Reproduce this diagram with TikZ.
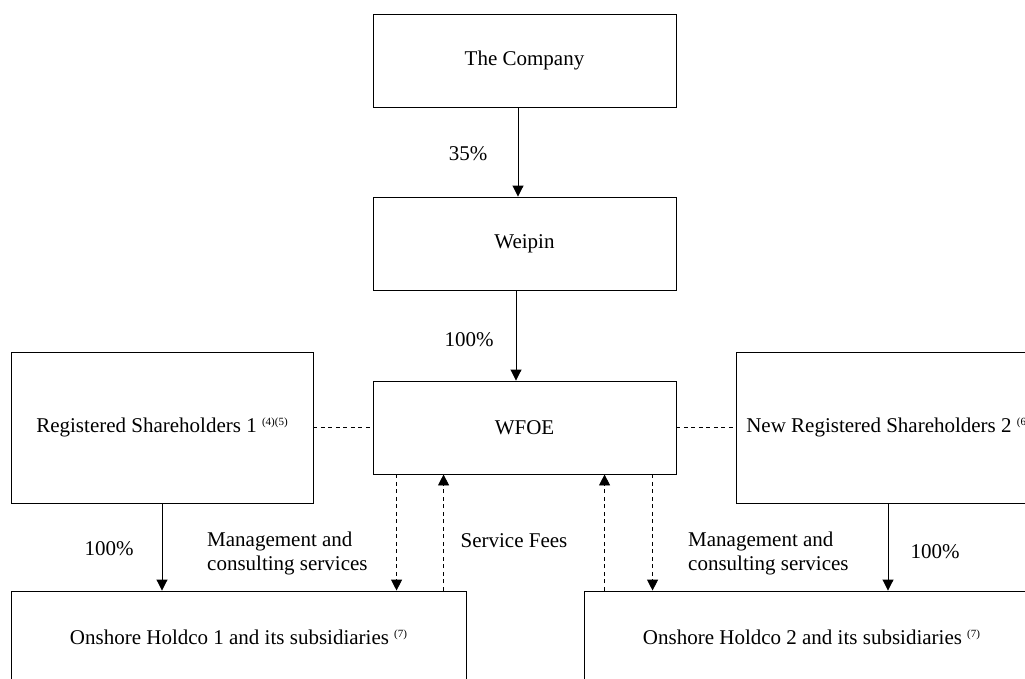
\documentclass[tikz,border=0pt]{standalone}
\usepackage{fontspec}
\setmainfont{Liberation Serif}
\usetikzlibrary{arrows.meta}
\newcommand{\supn}[1]{\raisebox{7pt}{\fontsize{11}{11}\selectfont #1}}
\begin{document}
\begin{tikzpicture}[x=1pt,y=-1pt,
  every node/.style={font=\fontsize{21}{25}\selectfont, inner sep=0pt},
  box/.style={draw, line width=0.9pt, minimum width=303pt, minimum height=93pt},
  tallbox/.style={draw, line width=0.9pt, minimum width=303pt, minimum height=151pt},
  widebox/.style={draw, line width=0.9pt, minimum width=455pt, minimum height=93pt},
  solidarrow/.style={line width=0.9pt, -{Triangle[width=11pt,length=11pt]}},
  dasharrow/.style={line width=0.9pt, dash pattern=on 4pt off 3.5pt, -{Triangle[width=11pt,length=11pt]}},
  dashline/.style={line width=0.9pt, dash pattern=on 4pt off 3.5pt},
  lbl/.style={}
]
\clip (0,0) rectangle (1025,678);
\fill[white] (0,0) rectangle (1025,678);

\node[box] (comp) at (524.5,60.5) {The Company};
\node[box] (weipin) at (524.5,243.5) {Weipin};
\node[box] (wfoe) at (524.5,427.5) {WFOE};
\node[tallbox, minimum width=302pt] (reg1) at (162,427.5) {Registered Shareholders 1 \supn{(4)(5)}};
\node[tallbox, minimum width=304pt] (reg2) at (888,427.5) {New Registered Shareholders 2 \supn{(6)}};
\node[widebox] (on1) at (238.5,637.5) {Onshore Holdco 1 and its subsidiaries \supn{(7)}};
\node[widebox] (on2) at (811.5,637.5) {Onshore Holdco 2 and its subsidiaries \supn{(7)}};

% ownership arrows
\draw[solidarrow] ([xshift=-6.5pt]comp.south) -- ([xshift=-6.5pt]weipin.north);
\draw[solidarrow] ([xshift=-8.5pt]weipin.south) -- ([xshift=-8.5pt]wfoe.north);
\draw[solidarrow] (reg1.south) -- (reg1.south |- on1.north);
\draw[solidarrow] (reg2.south) -- (reg2.south |- on2.north);

% dashed links
\draw[dashline] (reg1.east) -- (wfoe.west);
\draw[dashline] (wfoe.east) -- (reg2.west);

\path (wfoe.south west) ++(24,0) coordinate (d1)
      (wfoe.south west) ++(71,0) coordinate (u1)
      (wfoe.south west) ++(232,0) coordinate (u2)
      (wfoe.south west) ++(280,0) coordinate (d2);
\draw[dasharrow] (d1) -- (d1 |- on1.north);
\draw[dasharrow] (u1 |- on1.north) -- (u1);
\draw[dasharrow] (u2 |- on2.north) -- (u2);
\draw[dasharrow] (d2) -- (d2 |- on2.north);

% labels
\node[lbl] (l35) at (468,154) {35\%};
\node[lbl] (l100a) at (469,340) {100\%};
\node[lbl] (l100b) at (109,549) {100\%};
\node[lbl] (l100c) at (935,552) {100\%};
\node[lbl] (lsf) at (514,541) {Service Fees};
\node[lbl, anchor=west, align=left, font=\fontsize{21}{24}\selectfont] (lm1) at (207,553) {Management and\\consulting services};
\node[lbl, anchor=west, align=left, font=\fontsize{21}{24}\selectfont] (lm2) at (688,553) {Management and\\consulting services};
\end{tikzpicture}
\end{document}
